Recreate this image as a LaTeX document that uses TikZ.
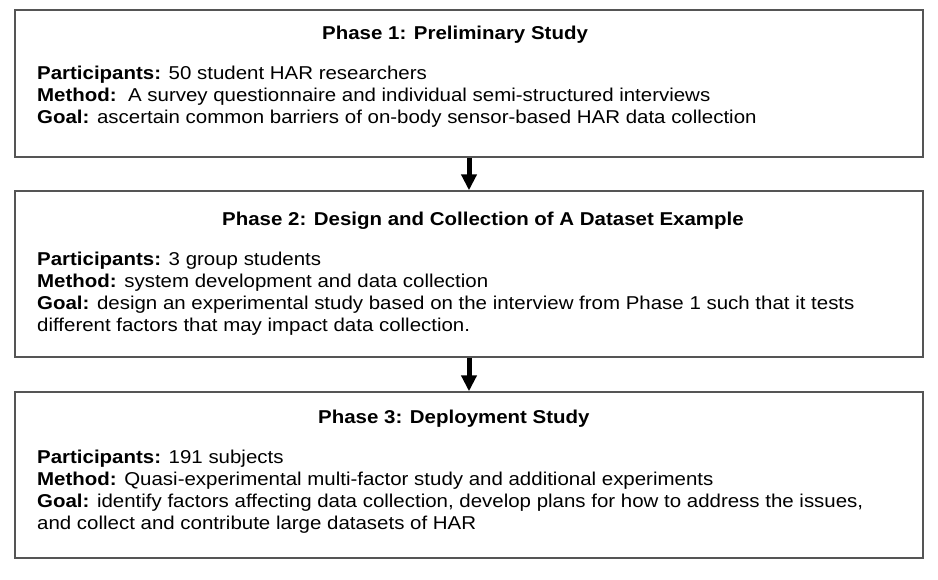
\documentclass[tikz,border=0pt]{standalone}
\usepackage{fontspec}
\setmainfont{Liberation Sans}[FakeStretch=1.1]
\usetikzlibrary{arrows.meta}
\definecolor{framegray}{RGB}{85,85,85}
\tikzset{
  phasebox/.style={draw=framegray,line width=1.4pt,minimum width=908pt,inner sep=0pt},
  phasetitle/.style={anchor=base west,inner sep=0pt,font=\fontsize{18.6}{22}\selectfont\bfseries},
  phasetext/.style={anchor=base west,inner sep=0pt,align=left,font=\fontsize{18.6}{22}\selectfont},
  phasearrow/.style={line width=5pt,-{Triangle[length=16pt,width=15pt]}}
}
\begin{document}
\begin{tikzpicture}[x=1pt,y=-1pt]
	\useasboundingbox (0,0) rectangle (938,579);
	% the three phases
	\node[phasebox,minimum height=147pt] (p1) at (469,83.5) {};
	\node[phasebox,minimum height=166pt] (p2) at (469,274) {};
	\node[phasebox,minimum height=166pt] (p3) at (469,475) {};
	
	% base anchor sits on the last line
	\node[phasetitle] (t1) at (322,39) {Phase 1: Preliminary Study};
	\node[phasetext] (b1) at (37,123) {\textbf{Participants:} 50 student HAR researchers\\
		\textbf{Method:}\ \ A survey questionnaire and individual semi-structured interviews\\
		\textbf{Goal:} ascertain common barriers of on-body sensor-based HAR data collection};
	
	\node[phasetitle] (t2) at (222,225) {Phase 2: Design and Collection of A Dataset Example};
	\node[phasetext] (b2) at (37,331) {\textbf{Participants:} 3 group students\\
		\textbf{Method:} system development and data collection\\
		\textbf{Goal:} design an experimental study based on the interview from Phase 1 such that it tests\\
		different factors that may impact data collection.};
	
	\node[phasetitle] (t3) at (318,423) {Phase 3: Deployment Study};
	\node[phasetext] (b3) at (37,529) {\textbf{Participants:} 191 subjects\\
		\textbf{Method:} Quasi-experimental multi-factor study and additional experiments\\
		\textbf{Goal:} identify factors affecting data collection, develop plans for how to address the issues,\\
		and collect and contribute large datasets of HAR};
	
	\draw[phasearrow] (p1)--(p2);
	\draw[phasearrow] (p2)--(p3);
\end{tikzpicture}
\end{document}
